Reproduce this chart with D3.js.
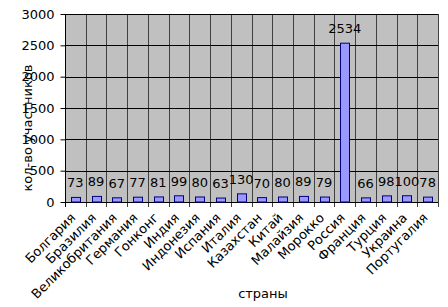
<!DOCTYPE html>
<html><head><meta charset="utf-8">
<script src="https://cdn.jsdelivr.net/npm/d3@7"></script>
<style>body{margin:0;background:#fff}svg{display:block}text{font-family:"DejaVu Sans",Verdana,sans-serif}</style>
</head><body><svg id="c" width="448" height="307"></svg>
<script>
const categories = ["Болгария","Бразилия","Великобритания","Германия","Гонконг","Индия","Индонезия","Испания","Италия","Казахстан","Китай","Малайзия","Морокко","Россия","Франция","Турция","Украина","Португалия"];
const values = [73,89,67,77,81,99,80,63,130,70,80,89,79,2534,66,98,100,78];
const yTicks = [0,500,1000,1500,2000,2500,3000];
const yTitle = "кол-во участников";
const xTitle = "страны";

const svg = d3.select("#c");
const L=65, R=438, T=14, B=202;
const x = d3.scaleBand().domain(categories).range([L,R]).paddingInner(0).paddingOuter(0);
const y = d3.scaleLinear().domain([0,3000]).range([B,T]);

svg.append("rect").attr("x",L).attr("y",T).attr("width",R-L).attr("height",B-T).attr("fill","#c0c0c0");
// vertical grid
svg.append("g").selectAll("line").data(categories.slice(1)).join("line")
  .attr("x1",d=>Math.round(x(d))+0.5).attr("x2",d=>Math.round(x(d))+0.5)
  .attr("y1",T).attr("y2",B+5).attr("stroke","#404040").attr("stroke-width",1);
// horizontal grid
svg.append("g").selectAll("line").data(yTicks.slice(1)).join("line")
  .attr("x1",L).attr("x2",R).attr("y1",d=>Math.round(y(d))+0.5).attr("y2",d=>Math.round(y(d))+0.5)
  .attr("stroke","#000").attr("stroke-width",1);
svg.append("line").attr("x1",R+0.5).attr("x2",R+0.5).attr("y1",T).attr("y2",B+5).attr("stroke","#404040");

// y axis
const ya = svg.append("g").attr("transform",`translate(${L+0.5},0)`)
  .call(d3.axisLeft(y).tickValues(yTicks).tickSize(5).tickPadding(6).tickFormat(d3.format("d")));
ya.selectAll("text").attr("font-size",13).attr("fill","#000").attr("font-family","DejaVu Sans");
ya.selectAll("line,path").attr("stroke","#000");
ya.select("path").attr("d",`M0,${T}V${B}`);

// x axis
const xa = svg.append("g").attr("transform",`translate(0,${B+0.5})`)
  .call(d3.axisBottom(x).tickSize(0).tickPadding(0));
xa.select("path").attr("d",`M${L},0H${R}`).attr("stroke","#000");
xa.selectAll(".tick line").remove();
xa.selectAll("text").attr("font-size",13).attr("fill","#000").attr("font-family","DejaVu Sans")
  .attr("text-anchor","end").attr("x",0).attr("y",0).attr("dy",0)
  .attr("transform","translate(1,16) rotate(-45)");
svg.append("line").attr("x1",L+0.5).attr("x2",L+0.5).attr("y1",B).attr("y2",B+5).attr("stroke","#000");

// bars
const bw = 9;
svg.append("g").selectAll("rect").data(values).join("rect")
  .attr("x",(d,i)=>Math.round(x(categories[i])+x.bandwidth()/2-bw/2)+0.5)
  .attr("y",d=>y(d)).attr("width",bw).attr("height",d=>B-y(d))
  .attr("fill","#9999ff").attr("stroke","#000080").attr("stroke-width",1);
// labels
svg.append("g").selectAll("text").data(values).join("text")
  .attr("x",(d,i)=>x(categories[i])+x.bandwidth()/2)
  .attr("y",d=>y(d)-10).attr("text-anchor","middle").attr("font-size",13).attr("fill","#000")
  .text(d=>d);

svg.append("text").attr("transform",`translate(32,${(T+B)/2+20}) rotate(-90)`).attr("text-anchor","middle")
  .attr("font-size",13).text(yTitle);
svg.append("text").attr("x",263).attr("y",298).attr("text-anchor","middle").attr("font-size",13).text(xTitle);
</script></body></html>
